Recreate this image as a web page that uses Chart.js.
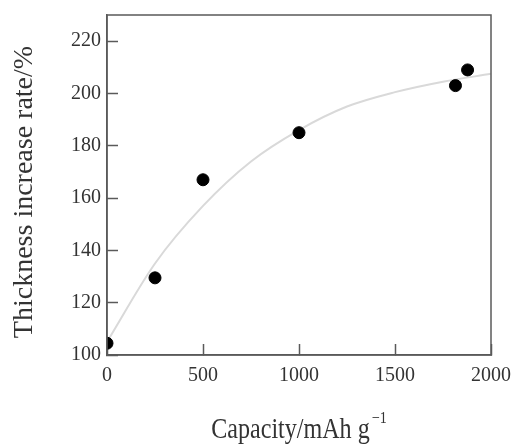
<!DOCTYPE html>
<html lang="en">
<head>
    <meta charset="UTF-8">
    <title>Thickness increase rate vs capacity</title>
    <script src="https://cdn.jsdelivr.net/npm/chart.js"></script>
    <style>
        html, body { margin: 0; padding: 0; background: #fff; }
        #wrap { width: 514px; height: 444px; }
    </style>
</head>
<body>
    <div id="wrap"><canvas id="chart"></canvas></div>

    <script>
    // measured points
    const capacity = [0, 250, 500, 1000, 1815, 1878];
    const rate = [104.5, 129.5, 167, 185, 203, 209];

    // fitted curve
    const fitCapacity = [0, 250, 500, 750, 1000, 1250, 1500, 1750, 2000];
    const fitRate = [105, 135, 157, 174, 186, 195, 200.5, 204.5, 207.5];

    const xTicks = [0, 500, 1000, 1500, 2000];
    const yTicks = [100, 120, 140, 160, 180, 200, 220];

    const serif = '"Liberation Serif", "Times New Roman", serif';
    const axisColor = '#5a5a5a';
    const textColor = '#333';

    // keep the plot area where the layout padding puts it
    function noPad(axis) {
        axis.paddingLeft = 0;
        axis.paddingRight = 0;
        axis.paddingTop = 0;
        axis.paddingBottom = 0;
    }

    // frame + axis titles (x title has a superscript)
    const extras = {
        id: 'extras',
        afterDraw(chart) {
            const ctx = chart.ctx;
            const a = chart.chartArea;
            ctx.save();
            ctx.strokeStyle = axisColor;
            ctx.lineWidth = 1.5;
            ctx.strokeRect(a.left, a.top, a.right - a.left, a.bottom - a.top);

            ctx.fillStyle = textColor;

            // y title
            ctx.save();
            ctx.font = '28px ' + serif;
            ctx.textAlign = 'center';
            ctx.textBaseline = 'alphabetic';
            ctx.translate(32, (a.top + a.bottom) / 2 + 7);
            ctx.rotate(-Math.PI / 2);
            ctx.fillText('Thickness increase rate/%', 0, 0);
            ctx.restore();

            // x title
            const main = 'Capacity/mAh g';
            const sup = '\u22121';
            const sx = 0.83;
            ctx.textBaseline = 'alphabetic';
            ctx.font = '29px ' + serif;
            const wMain = ctx.measureText(main).width * sx;
            ctx.font = '17px ' + serif;
            const wSup = ctx.measureText(sup).width * sx;
            const cx = (a.left + a.right) / 2;
            const x0 = cx - (wMain + wSup + 2) / 2;
            ctx.translate(x0, 438);
            ctx.scale(sx, 1);
            ctx.font = '29px ' + serif;
            ctx.fillText(main, 0, 0);
            ctx.font = '17px ' + serif;
            ctx.fillText(sup, (wMain + 2) / sx, -15);
            ctx.restore();
        }
    };

    new Chart(document.getElementById('chart'), {
        type: 'scatter',
        data: {
            datasets: [
                {
                    label: 'Measured',
                    data: capacity.map((c, i) => ({ x: c, y: rate[i] })),
                    backgroundColor: '#000',
                    borderColor: '#000',
                    pointRadius: 6,
                    pointHoverRadius: 6
                },
                {
                    label: 'Fit',
                    data: fitCapacity.map((c, i) => ({ x: c, y: fitRate[i] })),
                    showLine: true,
                    cubicInterpolationMode: 'monotone',
                    borderColor: '#d9d9d9',
                    borderWidth: 2,
                    pointRadius: 0,
                    pointHoverRadius: 0
                }
            ]
        },
        options: {
            responsive: true,
            maintainAspectRatio: false,
            animation: false,
            layout: { padding: { top: 15, right: 23, left: 0, bottom: 0 } },
            plugins: {
                legend: { display: false },
                tooltip: { enabled: false }
            },
            scales: {
                x: {
                    type: 'linear',
                    min: 0,
                    max: 2000,
                    afterBuildTicks: axis => { axis.ticks = xTicks.map(v => ({ value: v })); },
                    afterFit: axis => { axis.height = 89; noPad(axis); },
                    border: { display: true, color: axisColor, width: 1.5 },
                    grid: {
                        drawOnChartArea: false,
                        drawTicks: true,
                        tickLength: -11,
                        tickColor: axisColor,
                        tickWidth: 1.5
                    },
                    ticks: {
                        color: textColor,
                        font: { family: serif, size: 20 },
                        padding: 20,
                        maxRotation: 0,
                        callback: v => String(v)
                    }
                },
                y: {
                    type: 'linear',
                    min: 100,
                    max: 230,
                    afterBuildTicks: axis => { axis.ticks = yTicks.map(v => ({ value: v })); },
                    afterFit: axis => { axis.width = 107; noPad(axis); },
                    border: { display: true, color: axisColor, width: 1.5 },
                    grid: {
                        drawOnChartArea: false,
                        drawTicks: true,
                        tickLength: -11,
                        tickColor: axisColor,
                        tickWidth: 1.5
                    },
                    ticks: {
                        color: textColor,
                        font: { family: serif, size: 20 },
                        padding: 17,
                        callback: v => String(v)
                    }
                }
            }
        },
        plugins: [extras]
    });
    </script>
</body>
</html>
